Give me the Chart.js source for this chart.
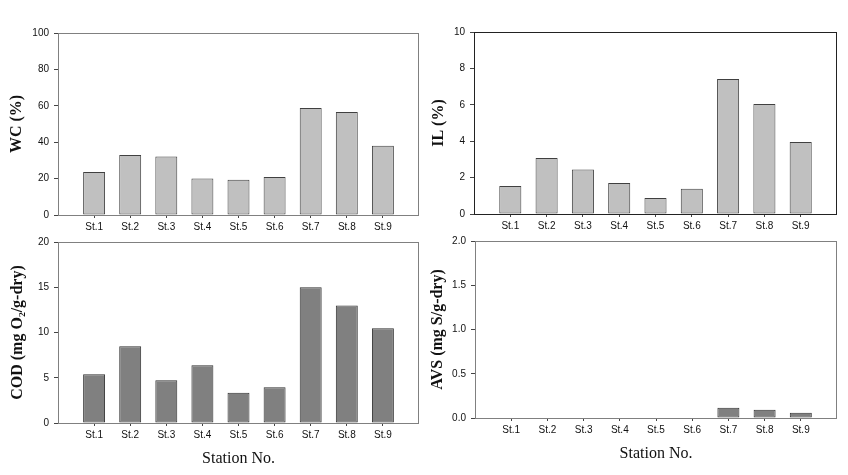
<!DOCTYPE html>
<html>
<head>
<meta charset="utf-8">
<script src="https://cdn.jsdelivr.net/npm/chart.js@4.4.1/dist/chart.umd.min.js"></script>
<style>
  body { margin: 0; background: #fff; }
  #wrap { position: relative; width: 848px; height: 475px; }
  canvas { position: absolute; }
</style>
</head>
<body>
<div id="wrap">
  <canvas id="chartWC" width="424" height="240" style="left:0;top:0"></canvas>
  <canvas id="chartIL" width="424" height="240" style="left:424px;top:0"></canvas>
  <canvas id="chartCOD" width="424" height="245" style="left:0;top:230px"></canvas>
  <canvas id="chartAVS" width="424" height="245" style="left:424px;top:230px"></canvas>
</div>
<script>
// data
const stations = ['St.1', 'St.2', 'St.3', 'St.4', 'St.5', 'St.6', 'St.7', 'St.8', 'St.9'];
const wcValues = [23.6, 33.0, 32.2, 20.0, 19.4, 20.9, 58.8, 56.6, 38.1];
const ilValues = [1.54, 3.08, 2.45, 1.70, 0.88, 1.39, 7.42, 6.04, 3.96];
const codValues = [5.39, 8.48, 4.73, 6.39, 3.34, 3.96, 15.0, 12.99, 10.46];
const avsValues = [0, 0, 0, 0, 0, 0, 0.117, 0.092, 0.059];

const wcTicks = [0, 100, 20];
const ilTicks = [0, 10, 2];
const codTicks = [0, 20, 5];
const avsTicks = [0, 2, 0.5];

// frame around the plot area
const framePlugin = {
  id: 'frame',
  afterDraw(chart, args, opts) {
    const a = chart.chartArea;
    const ctx = chart.ctx;
    ctx.save();
    ctx.strokeStyle = opts.color || '#666';
    ctx.lineWidth = 1;
    ctx.strokeRect(Math.round(a.left) + 0.5, Math.round(a.top) + 0.5,
      Math.round(a.right - a.left) - 1, Math.round(a.bottom - a.top));
    ctx.restore();
  }
};

function criarGrafico(cfg) {
  const canvas = document.getElementById(cfg.id);
  // empty slots at both ends, like the original spacing
  const labels = [''].concat(stations, ['']);
  const data = [null].concat(cfg.values, [null]);

  new Chart(canvas.getContext('2d'), {
    type: 'bar',
    data: {
      labels: labels,
      datasets: [{
        data: data,
        backgroundColor: cfg.fill,
        borderColor: cfg.edge,
        borderWidth: 1,
        borderSkipped: false,
        categoryPercentage: 0.76,
        barPercentage: 0.8
      }]
    },
    options: {
      responsive: false,
      animation: false,
      layout: { padding: cfg.pad },
      plugins: {
        legend: { display: false },
        tooltip: { enabled: false },
        frame: { color: cfg.frame }
      },
      scales: {
        x: {
          offset: false,
          afterFit: s => { s.height = cfg.xh; },
          grid: {
            offset: false,
            drawOnChartArea: false,
            drawTicks: true,
            tickLength: 3,
            tickColor: c => (c.index === 0 || c.index === labels.length - 1) ? 'rgba(0,0,0,0)' : '#444'
          },
          border: { display: false },
          ticks: {
            autoSkip: false,
            maxRotation: 0,
            padding: 3,
            color: '#111',
            font: { family: 'Liberation Sans', size: 10 }
          },
          title: {
            display: !!cfg.xTitle,
            text: cfg.xTitle || '',
            color: '#111',
            font: { family: 'Liberation Serif', size: 16 },
            padding: { top: 0, bottom: cfg.xtp || 0 }
          }
        },
        y: {
          min: cfg.ticks[0],
          max: cfg.ticks[1],
          afterFit: s => { s.width = cfg.yw; },
          grid: { drawOnChartArea: false, drawTicks: true, tickLength: 4, tickColor: '#444' },
          border: { display: false },
          ticks: {
            stepSize: cfg.ticks[2],
            padding: 5,
            color: '#111',
            font: { family: 'Liberation Sans', size: 10 },
            callback: v => cfg.dec ? v.toFixed(cfg.dec) : v
          },
          title: {
            display: true,
            text: cfg.yTitle,
            color: '#111',
            font: { family: 'Liberation Serif', size: 16, weight: 'bold' },
            padding: { top: cfg.ytp, bottom: 0 }
          }
        }
      }
    },
    plugins: [framePlugin]
  });
}

window.addEventListener('DOMContentLoaded', function () {
  const configs = [
    {
      id: 'chartWC', values: wcValues, ticks: wcTicks, yTitle: 'WC (%)',
      fill: '#c0c0c0', edge: '#404040', frame: '#808080',
      pad: { left: 0, top: 33, right: 5, bottom: 0 }, yw: 58, xh: 25, ytp: 7
    },
    {
      id: 'chartIL', values: ilValues, ticks: ilTicks, yTitle: 'IL (%)',
      fill: '#c0c0c0', edge: '#404040', frame: '#222',
      pad: { left: 0, top: 32, right: 11, bottom: 0 }, yw: 50, xh: 26, ytp: 5.5
    },
    {
      id: 'chartCOD', values: codValues, ticks: codTicks, yTitle: 'COD (mg O₂/g-dry)',
      fill: '#808080', edge: '#303030', frame: '#808080', xTitle: 'Station No.', xtp: 6.4,
      pad: { left: 0, top: 12, right: 5, bottom: 0 }, yw: 58, xh: 52, ytp: 8
    },
    {
      id: 'chartAVS', values: avsValues, ticks: avsTicks, yTitle: 'AVS (mg S/g-dry)', dec: 1,
      fill: '#808080', edge: '#303030', frame: '#808080', xTitle: 'Station No.', xtp: 11.4,
      pad: { left: 0, top: 7, right: 11, bottom: 0 }, yw: 51, xh: 57, ytp: 4.5
    }
  ];

  configs.forEach(cfg => criarGrafico(cfg));
});
</script>
</body>
</html>
